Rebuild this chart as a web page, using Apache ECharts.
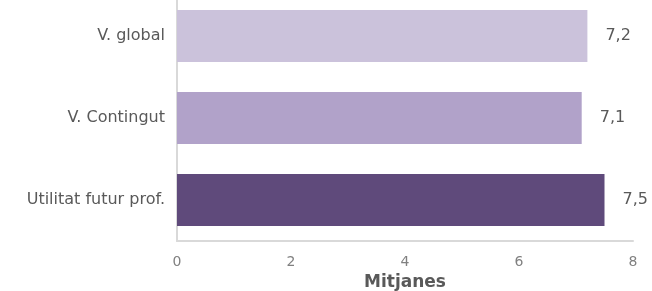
<!DOCTYPE html>
<html>
<head>
<meta charset="utf-8">
<script src="https://cdn.jsdelivr.net/npm/echarts@6/dist/echarts.min.js"></script>
<style>
  html, body { margin: 0; padding: 0; background: #fff; overflow: hidden; }
  #chart { width: 652px; height: 296px; margin-top: -5px; }
</style>
</head>
<body>
<div id="chart"></div>
<script>
var categories = ['V. global', 'V. Contingut', 'Utilitat futur prof.'];
var values = [7.2, 7.1, 7.5];
var colors = ['#cbc2db', '#b1a2c9', '#5f4a7b'];
var xTicks = [0, 2, 4, 6, 8];

var myChart = echarts.init(document.getElementById('chart'));
var data = [];
for (var i = 0; i < values.length; i++) {
    data.push({value: values[i], itemStyle: {color: colors[i]}});
}
var option = {
    animation: false,
    textStyle: {fontFamily: 'DejaVu Sans'},
    grid: {left: 177, right: 19, top: 0, bottom: 50, outerBoundsMode: 'none'},
    xAxis: {
        type: 'value',
        min: xTicks[0],
        max: xTicks[xTicks.length - 1],
        interval: 2,
        name: 'Mitjanes',
        nameLocation: 'middle',
        nameGap: 33,
        nameTextStyle: {fontSize: 17, fontWeight: 'bold', color: '#595959', fontFamily: 'DejaVu Sans'},
        axisLine: {show: true, lineStyle: {color: '#d9d9d9', width: 2}},
        axisTick: {show: false},
        splitLine: {show: false},
        axisLabel: {color: '#808080', fontSize: 14, margin: 14,
            formatter: function (v) { return String(v).replace('.', ','); }}
    },
    yAxis: {
        type: 'category',
        data: categories,
        inverse: true,
        axisLine: {show: true, lineStyle: {color: '#d9d9d9', width: 2}},
        axisTick: {show: false},
        axisLabel: {color: '#595959', fontSize: 16, margin: 12}
    },
    series: [{
        type: 'bar',
        data: data,
        barWidth: 52,
        label: {
            show: true,
            position: 'right',
            distance: 18,
            color: '#595959',
            fontSize: 16,
            formatter: function (p) { return p.value.toFixed(1).replace('.', ','); }
        }
    }]
};
myChart.setOption(option, true);
</script>
</body>
</html>
